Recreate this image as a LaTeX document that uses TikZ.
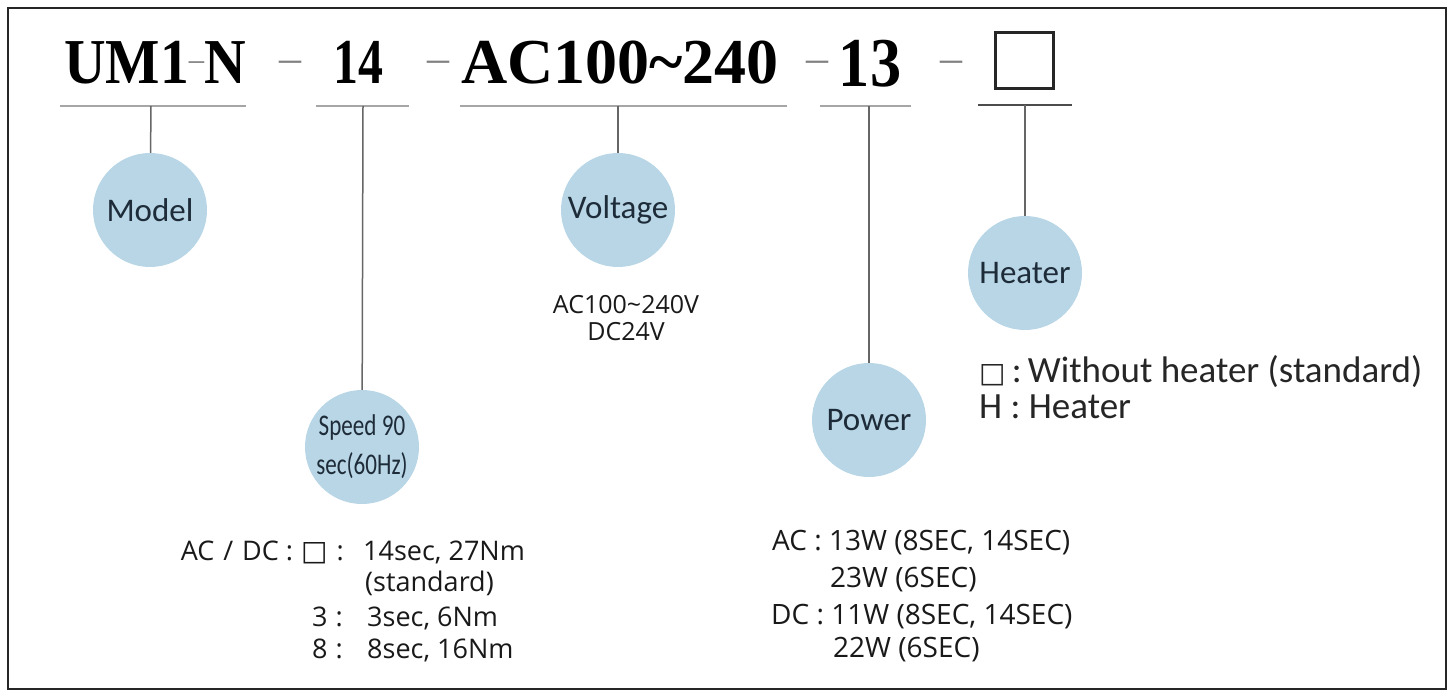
\documentclass[tikz,border=0pt]{standalone}
\usepackage{fontspec}
\usepackage{graphicx}
\setmainfont{Open Sans}
\newfontfamily\titlefont{Liberation Serif}
\newfontfamily\circfont{Carlito}
\newfontfamily\symfont{DejaVu Sans}
\definecolor{bubblefill}{HTML}{B8D6E6}
\definecolor{bubbleink}{HTML}{1E2B38}
\newcommand{\squeeze}[1]{\scalebox{0.77}[1]{#1}}
\newcommand{\boxmark}{{\symfont\fontsize{28}{28}\selectfont □}}
\tikzset{
  bubble/.style={circle, fill=bubblefill, minimum size=114pt, inner sep=0pt,
    font=\circfont\fontsize{33}{36}\selectfont, text=bubbleink},
  code/.style={font=\titlefont\bfseries\fontsize{64}{70}\selectfont,
    anchor=base, inner sep=0pt},
  sep/.style={font=\titlefont\fontsize{44}{50}\selectfont, text=black!50,
    anchor=base, inner sep=0pt},
  underline/.style={draw=black!35, line width=1.3pt},
  stem/.style={draw=black!60, line width=1.5pt},
  note/.style={font=\fontsize{27}{30}\selectfont, inner sep=0pt, text=black!90},
  hnote/.style={font=\circfont\fontsize{37}{40}\selectfont, inner sep=0pt,
    text=black!85, anchor=base west}
}

\begin{document}
\begin{tikzpicture}[x=1pt,y=-1pt]
  \useasboundingbox (0,0) rectangle (1455,695);
  \draw[line width=1.6pt, black!85] (8,8) rectangle (1446,689);

  % code line
  \node[code] (pModel) at (155,84)
    {\scalebox{0.9}[1]{UM1{\mdseries\color{black!50}\fontsize{34}{34}\selectfont\raisebox{13pt}{–}}N}};
  \node[sep] (d1) at (290,73) {–};
  \node[code] (pSpeed) at (358,84) {\scalebox{0.78}[1]{14}};
  \node[sep] (d2) at (438,73) {–};
  \node[code] (pVolt) at (620,84) {AC100\char`\~240};
  \node[sep] (d3) at (817,73) {–};
  \node[code, font=\titlefont\bfseries\fontsize{70}{76}\selectfont]
    (pPower) at (870,87) {\scalebox{0.89}[1]{13}};
  \node[sep] (d4) at (951,73) {–};
  \node[draw=black!85, line width=3pt, minimum width=58pt, minimum height=56pt,
    inner sep=0pt] (pHeat) at (1024,61) {};

  % underlines
  \draw[underline] (60,106) -- (246,106);
  \draw[underline] (316,106) -- (409,106);
  \draw[underline] (460,106) -- (787,106);
  \draw[underline] (820,106) -- (911,106);
  \draw[draw=black!70, line width=2pt] (978,105) -- (1072,105);

  \coordinate (uModel) at (151,106);
  \coordinate (uSpeed) at (363,106);
  \coordinate (uVolt) at (618,106);
  \coordinate (uPower) at (869,106);
  \coordinate (uHeat) at (1025,105);

  % bubbles
  \node[bubble] (model) at (150,210) {Model};
  \node[bubble, align=center, font=\circfont\fontsize{30}{39}\selectfont]
    (speed) at (362,447) {\squeeze{Speed 90}\\\squeeze{sec(60Hz)}};
  \node[bubble] (volt) at (618,210) {Voltage};
  \node[bubble] (power) at (869,420) {Power};
  \node[bubble] (heat) at (1025,273) {Heater};

  \draw[stem] (uModel) -- (model);
  \draw[stem] (uSpeed) -- (speed);
  \draw[stem] (uVolt) -- (volt);
  \draw[stem] (uPower) -- (power);
  \draw[stem] (uHeat) -- (heat);

  % speed options
  \node[note, anchor=base east] (spdKey1) at (344,560)
    {AC\,\,/\,\,DC\hspace{7pt}:\hspace{8pt}\boxmark\hspace{9pt}:};
  \node[note, anchor=base west] (spdVal1) at (363,560) {14sec, 27Nm};
  \node[note, anchor=base west] (spdVal1b) at (365,591) {(standard)};
  \node[note, anchor=base east] (spdKey2) at (343,626) {3\hspace{8pt}:};
  \node[note, anchor=base west] (spdVal2) at (367,626) {3sec, 6Nm};
  \node[note, anchor=base east] (spdKey3) at (343,658) {8\hspace{8pt}:};
  \node[note, anchor=base west] (spdVal3) at (367,658) {8sec, 16Nm};

  % voltage options
  \node[note, font=\fontsize{25}{30}\selectfont, anchor=base]
    (voltVal1) at (626,313) {AC100\char`\~240V};
  \node[note, font=\fontsize{25}{30}\selectfont, anchor=base]
    (voltVal2) at (626,340) {DC24V};

  % power options
  \node[note, font=\fontsize{28}{30}\selectfont, anchor=base west]
    (powVal1) at (772,550) {AC : 13W (8SEC, 14SEC)};
  \node[note, font=\fontsize{28}{30}\selectfont, anchor=base west]
    (powVal2) at (830,587) {23W (6SEC)};
  \node[note, font=\fontsize{28}{30}\selectfont, anchor=base west]
    (powVal3) at (771,624) {DC : 11W (8SEC, 14SEC)};
  \node[note, font=\fontsize{28}{30}\selectfont, anchor=base west]
    (powVal4) at (833,657) {22W (6SEC)};

  % heater options
  \node[hnote] (heatVal1) at (979,382) {\boxmark\,:\,Without heater (standard)};
  \node[hnote] (heatVal2) at (979,418) {H : Heater};
\end{tikzpicture}
\end{document}
